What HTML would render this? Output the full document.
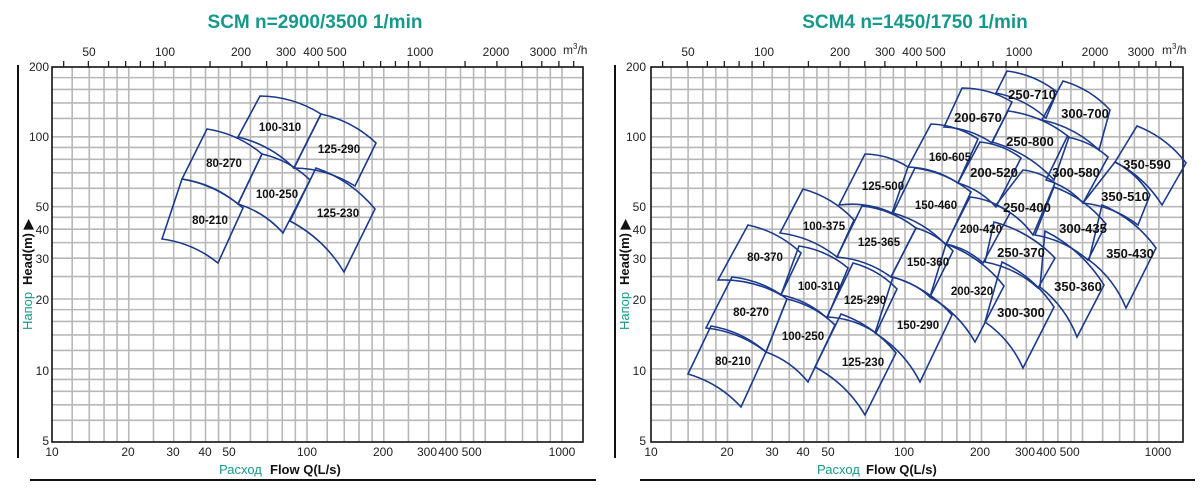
<!DOCTYPE html>
<html><head><meta charset="utf-8"><style>
html,body{margin:0;padding:0;background:#fff;}
svg{display:block;}
text{font-family:"Liberation Sans",sans-serif;}
.t{font-size:12px;fill:#222;}
.lb{font-size:11.5px;font-weight:bold;fill:#111;text-anchor:middle;}
.lb2{font-size:13px;font-weight:bold;fill:#111;text-anchor:middle;}
.ttl{font-size:19px;font-weight:bold;fill:#16998b;}
</style></head><body>
<svg id="s" width="1200" height="496" viewBox="0 0 1200 496" xmlns="http://www.w3.org/2000/svg">
<g id="grid"></g>
<g id="tiles" fill="none" stroke="#1c3a8c" stroke-width="1.6"></g>
<!-- frame lines -->
<line x1="18" y1="65" x2="18" y2="458" stroke="#111" stroke-width="2"/>
<line x1="30" y1="480" x2="596" y2="480" stroke="#111" stroke-width="2"/>
<line x1="615" y1="65" x2="615" y2="458" stroke="#111" stroke-width="2"/>
<line x1="640" y1="480" x2="1195" y2="480" stroke="#111" stroke-width="2"/>
<!-- titles -->
<text class="ttl" x="315" y="28" text-anchor="middle">SCM  n=2900/3500 1/min</text>
<text class="ttl" x="915" y="28" text-anchor="middle">SCM4  n=1450/1750 1/min</text>
<!-- left axis labels -->
<g class="t" text-anchor="end">
<text x="49" y="71">200</text><text x="49" y="141">100</text><text x="49" y="211">50</text><text x="49" y="234">40</text><text x="49" y="263">30</text><text x="49" y="304">20</text><text x="49" y="375">10</text><text x="49" y="445">5</text>
<text x="646" y="71">200</text><text x="646" y="141">100</text><text x="646" y="211">50</text><text x="646" y="234">40</text><text x="646" y="263">30</text><text x="646" y="304">20</text><text x="646" y="375">10</text><text x="646" y="445">5</text>
</g>
<g class="t" text-anchor="middle">
<text x="52" y="456">10</text><text x="128" y="456">20</text><text x="173" y="456">30</text><text x="205" y="456">40</text><text x="229" y="456">50</text><text x="307" y="456">100</text><text x="383" y="456">200</text><text x="427" y="456">300</text><text x="460" y="456">400 500</text><text x="562" y="456">1000</text>
<text x="651" y="456">10</text><text x="727" y="456">20</text><text x="772" y="456">30</text><text x="803" y="456">40</text><text x="828" y="456">50</text><text x="904" y="456">100</text><text x="980" y="456">200</text><text x="1025" y="456">300</text><text x="1058" y="456">400 500</text><text x="1158" y="456">1000</text>
<text x="89" y="56">50</text><text x="165" y="56">100</text><text x="241" y="56">200</text><text x="286" y="56">300</text><text x="325" y="56">400 500</text><text x="420" y="56">1000</text><text x="496" y="56">2000</text><text x="543" y="56">3000</text>
<text x="688" y="56">50</text><text x="764" y="56">100</text><text x="840" y="56">200</text><text x="885" y="56">300</text><text x="924" y="56">400 500</text><text x="1019" y="56">1000</text><text x="1095" y="56">2000</text><text x="1141" y="56">3000</text>
</g>
<text class="t" x="563" y="54">m<tspan font-size="8" dy="-5">3</tspan><tspan dy="5">/h</tspan></text>
<text class="t" x="1162" y="54">m<tspan font-size="8" dy="-5">3</tspan><tspan dy="5">/h</tspan></text>
<!-- axis titles -->
<g transform="translate(32,330) rotate(-90)"><text font-size="13" fill="#16998b">Напор</text><text x="45" font-size="13" font-weight="bold" fill="#111">Head(m) ▶</text></g>
<g transform="translate(629,330) rotate(-90)"><text font-size="13" fill="#16998b">Напор</text><text x="45" font-size="13" font-weight="bold" fill="#111">Head(m) ▶</text></g>
<text x="219" y="474" font-size="13" fill="#16998b">Расход</text><text x="270" y="474" font-size="13" font-weight="bold" fill="#111">Flow Q(L/s)</text>
<text x="817" y="474" font-size="13" fill="#16998b">Расход</text><text x="866" y="474" font-size="13" font-weight="bold" fill="#111">Flow Q(L/s)</text>
<!-- tile labels left -->
<g class="lb">
<text x="280" y="131">100-310</text><text x="224" y="167">80-270</text><text x="339" y="153">125-290</text><text x="277" y="198">100-250</text><text x="210" y="224">80-210</text><text x="338" y="217">125-230</text>
<text x="733" y="365">80-210</text><text x="751" y="316">80-270</text><text x="765" y="261">80-370</text><text x="803" y="340">100-250</text><text x="819" y="290">100-310</text><text x="824" y="230">100-375</text><text x="863" y="366">125-230</text><text x="865" y="304">125-290</text><text x="879" y="246">125-365</text><text x="883" y="190">125-500</text><text x="918" y="329">150-290</text><text x="928" y="266">150-360</text><text x="936" y="209">150-460</text><text x="950" y="161">160-605</text><text x="972" y="295">200-320</text><text x="981" y="233">200-420</text>
</g>
<g class="lb2">
<text x="994" y="177">200-520</text><text x="978" y="122">200-670</text><text x="1021" y="257">250-370</text><text x="1027" y="212">250-400</text><text x="1030" y="146">250-800</text><text x="1032" y="99">250-710</text><text x="1021" y="317">300-300</text><text x="1083" y="233">300-435</text><text x="1076" y="177">300-580</text><text x="1085" y="118">300-700</text><text x="1078" y="291">350-360</text><text x="1125" y="201">350-510</text><text x="1147" y="169">350-590</text><text x="1130" y="258">350-430</text>
</g>
</svg>
<script>
var NS="http://www.w3.org/2000/svg",g=document.getElementById('grid'),tg=document.getElementById('tiles');
function L(p,x1,y1,x2,y2,c,w){var e=document.createElementNS(NS,'line');e.setAttribute('x1',x1);e.setAttribute('y1',y1);e.setAttribute('x2',x2);e.setAttribute('y2',y2);e.setAttribute('stroke',c);e.setAttribute('stroke-width',w);p.appendChild(e);}
function Y(h){return 67+(Math.log10(200)-Math.log10(h))*232;}
var xs=[12,14,16,18,20,25,30,35,40,45,50,60,70,80,90,100,120,140,160,180,200,250,300,350,400,450,500,600,700,800,900,1000];
var hs=[6,7,8,9,10,12,14,16,18,20,25,30,35,40,45,50,60,70,80,90,100,120,140,160,180];
var mt=[40,50,60,70,80,90,100,150,200,250,300,400,500,600,700,800,900,1000,1500,2000,2500,3000,3500,4000];
[[52,255,583],[651,254,1183]].forEach(function(c){
 var x0=c[0],d=c[1],xr=c[2];
 xs.forEach(function(q){var x=x0+Math.log10(q/10)*d;L(g,x,67,x,442,'#b8b8b8',1.6);});
 hs.forEach(function(h){var y=Y(h);L(g,x0,y,xr,y,'#b8b8b8',1.6);});
 mt.forEach(function(m){var x=x0+Math.log10(m/36)*d;if(x>x0&&x<xr)L(g,x,61,x,67,'#222',1.3);});
 var r=document.createElementNS(NS,'rect');r.setAttribute('x',x0);r.setAttribute('y',67);r.setAttribute('width',xr-x0);r.setAttribute('height',375);r.setAttribute('fill','none');r.setAttribute('stroke','#111');r.setAttribute('stroke-width',1.6);g.appendChild(r);
});
function cp(a,b,k){var dx=b[0]-a[0],dy=b[1]-a[1],l=Math.hypot(dx,dy);return [(a[0]+b[0])/2+dy/l*l*k,(a[1]+b[1])/2-dx/l*l*k];}
function T(tl,tr,br,bl){var c1=cp(tl,tr,0.14),c2=cp(br,bl,-0.14);
 var e=document.createElementNS(NS,'path');
 e.setAttribute('d','M'+tl+' Q'+c1+' '+tr+' L'+br+' Q'+c2+' '+bl+' Z');tg.appendChild(e);}
var tiles=[
[[207,129],[262,154],[238,204],[182,179]],
[[182,179],[243,208],[218,263],[162,239]],
[[260,96],[321,114],[294,168],[238,137]],
[[321,114],[376,143],[355,186],[294,168]],
[[262,154],[310,180],[283,233],[238,204]],
[[316,168],[375,209],[344,272],[290,221]],
[[711,326],[766,352],[741,407],[688,374]],
[[732,277],[787,299],[766,352],[706,328]],
[[748,225],[801,253],[781,295],[718,280]],
[[787,299],[835,325],[808,382],[766,352]],
[[799,246],[848,268],[827,318],[781,295]],
[[803,189],[854,220],[837,257],[780,233]],
[[841,314],[896,353],[865,415],[815,367]],
[[853,263],[897,289],[876,333],[827,317]],
[[862,206],[916,228],[891,277],[837,257]],
[[865,154],[908,167],[892,213],[839,205]],
[[893,277],[952,315],[920,382],[875,333]],
[[916,228],[953,251],[930,297],[891,277]],
[[915,168],[971,192],[946,245],[893,213]],
[[931,124],[978,139],[958,183],[908,167]],
[[946,244],[1004,286],[975,342],[930,297]],
[[970,197],[1010,213],[983,263],[946,244]],
[[980,142],[1021,158],[996,207],[958,183]],
[[962,88],[1012,102],[992,143],[944,127]],
[[994,222],[1055,258],[1038,288],[985,262]],
[[1023,170],[1055,183],[1033,235],[996,205]],
[[1008,111],[1069,137],[1054,180],[992,142]],
[[1007,71],[1057,92],[1046,118],[996,93]],
[[1002,262],[1054,307],[1023,368],[985,322]],
[[1054,187],[1106,224],[1088,260],[1035,235]],
[[1045,231],[1104,285],[1077,337],[1040,287]],
[[1067,137],[1108,157],[1083,203],[1046,180]],
[[1063,81],[1110,110],[1099,150],[1042,120]],
[[1115,162],[1150,195],[1138,225],[1083,203]],
[[1137,126],[1186,163],[1162,205],[1115,162]],
[[1102,205],[1156,248],[1126,308],[1089,260]]
];
tiles.forEach(function(t){T(t[0],t[1],t[2],t[3]);});
</script>
</body></html>
